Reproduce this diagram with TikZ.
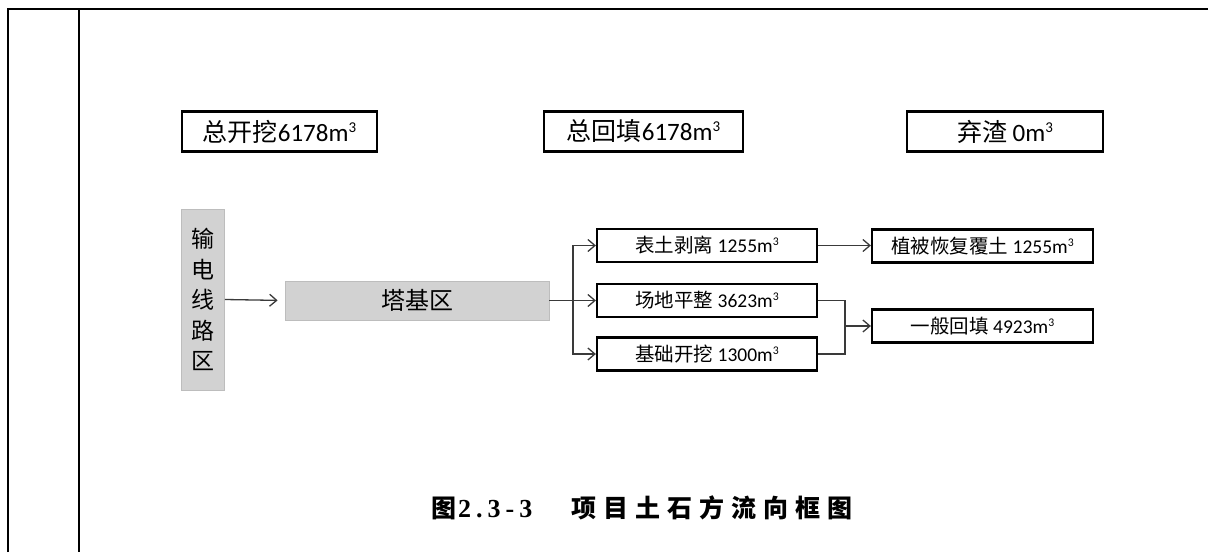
\documentclass[tikz,border=0pt]{standalone}
\usepackage{fontspec}
\setmainfont{Carlito}
\newfontfamily\hz{Noto Sans CJK SC}
\newfontfamily\tnr{Liberation Serif}
\usetikzlibrary{arrows.meta}
\definecolor{ln}{HTML}{3A3A3A}
\definecolor{gfill}{HTML}{D2D2D2}
\definecolor{gedge}{HTML}{BDBDBD}
\tikzset{
  tbox/.style={draw=black,line width=2.4pt,minimum width=195pt,minimum height=40pt,inner sep=0pt,font=\fontsize{25}{28}\selectfont},
  sbox/.style={draw=black,line width=2.2pt,minimum width=220pt,minimum height=33pt,inner sep=0pt,font=\fontsize{19.5}{22}\selectfont},
  gbox/.style={fill=gfill,draw=gedge,line width=0.8pt,inner sep=0pt,font=\fontsize{23}{30.5}\selectfont},
  conn/.style={draw=ln,line width=1.3pt},
  arr/.style={conn,-{Straight Barb[length=7pt,width=12pt,line width=1.3pt]}},
}
\newcommand{\mcube}{m\raisebox{0.36em}{\fontsize{0.6em}{0.6em}\selectfont 3}}
\newcommand{\gp}{\hspace{7pt}}
\newcommand{\dg}{\hspace{5pt}}
\begin{document}
\begin{tikzpicture}[x=1pt,y=-1pt]
\useasboundingbox (0,0) rectangle (1208,552);
% frame
\draw[line width=2.2pt] (8,552) -- (8,9) -- (1208,9);
\draw[line width=1.4pt] (79,9) -- (79,552);
% top boxes
\node[tbox] (t1) at (279.5,131.5) {{\hz 总开挖}6178\mcube};
\node[tbox,minimum width=199pt] (t2) at (643.5,131.5) {{\hz 总回填}6178\mcube};
\node[tbox,minimum width=196pt] (t3) at (1005,131.5) {{\hz 弃渣} 0\mcube};
% gray boxes
\node[gbox,minimum width=43pt,minimum height=181pt,align=center] (a) at (203,299.5) {\hz 输\\\hz 电\\\hz 线\\\hz 路\\\hz 区};
\node[gbox,minimum width=264pt,minimum height=39pt,font=\fontsize{24}{28}\selectfont] (b) at (417,300.5) {\hz 塔基区};
% middle boxes
\node[sbox] (c1) at (707,245.5) {{\hz 表土剥离} 1255\mcube};
\node[sbox] (c2) at (707,300.5) {{\hz 场地平整} 3623\mcube};
\node[sbox] (c3) at (707,354) {{\hz 基础开挖} 1300\mcube};
% right boxes
\node[sbox,minimum width=221pt] (d1) at (982.5,246) {{\hz 植被恢复覆土} 1255\mcube};
\node[sbox,minimum width=221pt] (d2) at (982.5,326) {{\hz 一般回填} 4923\mcube};
% junction coordinates
\coordinate (j) at (573,300.5);
\coordinate (m) at (845,326);
% connectors
\draw[arr,shorten >=7pt] (a.east) -- (b.west);
\draw[arr] (b.east) -- (c2.west);
\draw[arr] (j) |- (c1.west);
\draw[arr] (j) |- (c3.west);
\draw[arr] (c1.east) -- (d1.west |- c1.east);
\draw[conn] (c2.east) -| (m);
\draw[conn] (c3.east) -| (m);
\draw[arr] (m) -- (d2.west);
% caption
\node[anchor=west,inner sep=0pt,font=\fontsize{25}{28}\selectfont\bfseries] (cap) at (431,508) {{\hz 图}\hspace{2pt}{\fontsize{26}{28}\tnr\bfseries 2\dg.\dg3\dg-\dg3}\hspace{39pt}{\hz 项\gp 目\gp 土\gp 石\gp 方\gp 流\gp 向\gp 框\gp 图}};
\end{tikzpicture}
\end{document}
